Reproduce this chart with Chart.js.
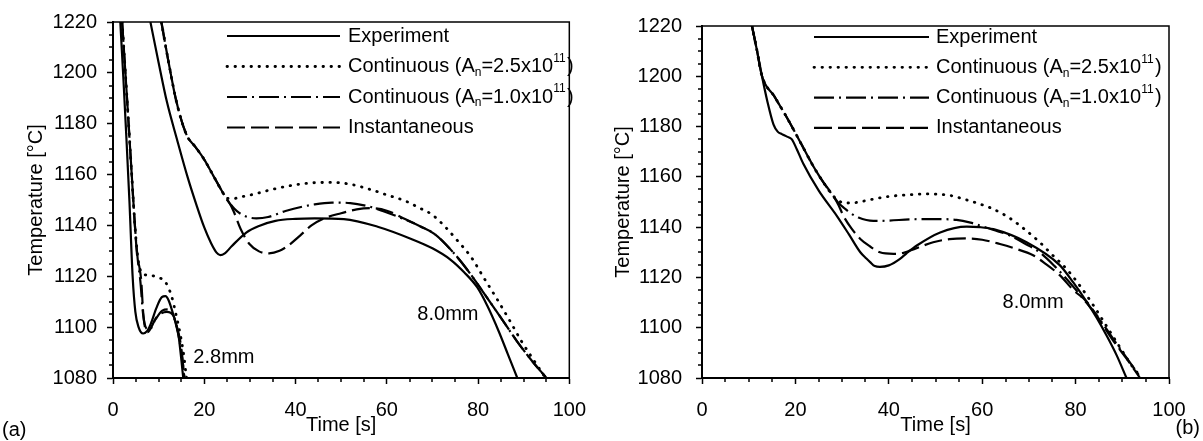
<!DOCTYPE html>
<html>
<head>
<meta charset="utf-8">
<script src="https://cdn.jsdelivr.net/npm/chart.js@4.4.0/dist/chart.umd.min.js"></script>
<style>
  body {
    margin: 0;
    background: #fff;
    width: 1203px;
    height: 441px;
    position: relative;
    overflow: hidden;
    font-family: "Liberation Sans", Arial, sans-serif;
  }
  canvas { position: absolute; top: 0; }
  #chartA { left: 0; }
  #chartB { left: 600px; }
  .panel { position: absolute; font-size: 20px; color: #000; }
</style>
</head>
<body>
<canvas id="chartA" width="600" height="441"></canvas>
<canvas id="chartB" width="603" height="441"></canvas>
<div class="panel" style="left:2px; top:418px;">(a)</div>
<div class="panel" style="right:3px; top:416px;">(b)</div>
<script>
// axis ticks
const xTicks = [0, 20, 40, 60, 80, 100];
const yTicks = [1080, 1100, 1120, 1140, 1160, 1180, 1200, 1220];

// legend entries (sub / superscripts split out)
const legendLabels = [
  [{ text: "Experiment" }],
  [{ text: "Continuous (A" }, { text: "n", sub: true }, { text: "=2.5x10" }, { text: "11", sup: true }, { text: ")" }],
  [{ text: "Continuous (A" }, { text: "n", sub: true }, { text: "=1.0x10" }, { text: "11", sup: true }, { text: ")" }],
  [{ text: "Instantaneous" }],
];

// (a) 2.8mm  [time s, temperature C]
const a28Exp = [[1.6,1220],[2.3,1197],[2.9,1175.7],[3.6,1149.6],[4.3,1120],[4.9,1106],[5.6,1100],[6.6,1097.5],[7.5,1098.5],[8.3,1101.4],[9.5,1107.5],[10.7,1111.8],[11.5,1112.2],[12.2,1110.5],[13.2,1105],[14.3,1097.5],[15.4,1080]];
const a28Dot = [[2.0,1220],[3.0,1192],[4.0,1163],[4.8,1140],[5.4,1128],[5.9,1123],[6.5,1121],[8.3,1120.3],[10,1119.5],[11.5,1117.7],[12.9,1111.8],[13.8,1105],[14.7,1097.5],[15.5,1089],[16.1,1080]];
const a28DashDot = [[2.0,1220],[3.0,1192],[4.0,1163],[4.8,1140],[5.4,1127],[6.0,1118],[6.6,1105],[7.3,1099.5],[8.0,1099],[9.3,1103],[10.8,1106.5],[12,1107],[13.2,1104.5],[14.2,1098],[15,1090],[15.7,1080]];
const a28Dash = [[2.0,1220],[3.0,1192],[4.0,1163],[4.8,1140],[5.3,1128],[5.8,1123.5],[6.2,1118],[6.6,1106],[7.0,1100],[7.6,1098],[8.4,1100],[9.3,1103.3],[10.5,1105.3],[11.8,1106],[13.2,1104.6],[14.0,1100],[14.7,1094.9],[15.2,1088],[15.6,1080]];

// (a) 8.0mm
const a80Exp = [[8.2,1220],[10,1204],[11.8,1188.7],[14,1174],[16.4,1158.7],[18.3,1148],[20,1139.2],[21.5,1133],[22.7,1129.3],[23.5,1128.3],[24.5,1129],[26,1131.8],[29.2,1137.2],[32,1139.8],[35.6,1141.8],[40,1142.6],[44.2,1142.8],[50.6,1142.5],[58,1139.5],[65.5,1134.6],[70,1131],[74,1126.5],[77,1121.5],[79.8,1115.7],[82,1108.5],[84.5,1098.5],[86.5,1089.5],[88.6,1080]];
const a80Start = [[10.6,1220],[12.2,1204],[13.9,1188.7],[16.1,1175.7],[18,1171],[20,1165.9],[22,1159.5],[24.3,1152.2]];
const a80Dot = [...a80Start, [25,1150.6],[26.5,1150.6],[28,1151.2],[30.7,1152.2],[35,1154.2],[40,1156],[44.2,1156.8],[48,1156.9],[52,1156.2],[57,1153.8],[60,1152],[64.1,1149.6],[67,1147],[69.8,1144.4],[72.5,1140],[75.5,1134],[78.5,1127.5],[81.2,1119.6],[84,1111.5],[86.9,1102.7],[89.5,1094.5],[92.2,1087],[94.8,1080]];
const a80DashDot = [...a80Start, [25,1150],[26,1147.8],[27.1,1145.7],[29,1143.6],[31.4,1142.8],[34,1143.3],[37.8,1145.7],[44.2,1148.3],[48,1149],[52,1148.8],[56,1147.5],[59.1,1145.7],[64,1142.3],[67.5,1139.5],[70.5,1136.6],[74.5,1129.5],[78.3,1121],[82,1111.5],[85.4,1102.7],[88.5,1094.5],[91.7,1087],[95,1080]];
const a80Dash = [...a80Start, [25.3,1149.5],[26.4,1145.7],[28,1138.5],[29.9,1132.7],[32,1129.8],[34.2,1129],[36.5,1130],[38.5,1132.2],[41,1136],[43.5,1140],[46.3,1142.8],[50,1144.8],[53.4,1146.3],[56.5,1146.8],[60,1145.8],[64,1142.5],[67.5,1139.5],[70.5,1136.6],[74.5,1129.5],[78.3,1121],[82,1111.5],[85.4,1102.7],[88.5,1094.5],[91.7,1087],[95,1080]];

// (b) 8.0mm
const bExp = [[10.7,1220],[11.8,1210],[12.8,1200.4],[14,1190],[15.3,1180.9],[16.2,1178],[17.1,1177],[18.2,1176],[19.2,1175],[20.3,1171],[21.7,1165.2],[25,1154.5],[28.9,1144.4],[31.5,1137],[33.9,1130],[35.2,1127.5],[36,1126.1],[37,1124.5],[38.1,1124.2],[40,1124.8],[42.4,1127.4],[43.8,1129.6],[46,1132.7],[51,1137.9],[56.7,1140.2],[59.5,1140],[62.4,1139.2],[69.5,1134],[76.6,1124.9],[79.5,1118],[82.3,1110.5],[84.5,1104],[86.6,1097],[88.8,1089],[90.9,1080]];
const bStart = [[10.7,1220],[11.8,1210],[12.8,1200.4],[15.5,1192],[18.2,1183.5],[21,1174],[23.9,1164],[26,1157.8],[28.2,1152.2]];
const bDot = [...bStart, [29.3,1150.5],[30.3,1149.6],[33,1149.8],[36,1150.9],[40,1152.2],[44.6,1152.9],[48,1153.2],[53.1,1152.6],[56,1151.2],[58.8,1149.6],[62,1147.5],[65.2,1144.4],[68.5,1140],[72.3,1134],[75,1129],[78,1123.5],[81,1116.5],[83.7,1109.2],[86.5,1101],[89.5,1092.2],[92,1085],[94.2,1080]];
const bDashDot = [...bStart, [29.3,1149.5],[30.5,1147.5],[31.7,1145.7],[33.5,1143.8],[36.7,1142.5],[40,1142.6],[44.6,1143.1],[50,1143.2],[54.5,1142.9],[57.5,1141.8],[60.2,1140.2],[63,1138.6],[66,1136.6],[69,1133.6],[72.3,1130],[75.5,1124.5],[78.5,1118.5],[82.3,1110],[84.5,1105],[86.6,1099.5],[89,1093],[91.5,1086.5],[94,1080]];
const bDash = [...bStart, [29.3,1148.5],[30.3,1144.4],[32,1139.5],[33.9,1135.3],[36,1132.3],[38.1,1130],[41,1129.4],[42.4,1129.5],[44.6,1130.7],[49.5,1134],[53,1135.2],[56.7,1135.5],[60,1135],[63.8,1133.3],[67,1131.5],[70.9,1128.8],[73.5,1125.5],[76.6,1120.9],[79.5,1115],[82.3,1110.5],[85,1103.5],[88,1095],[91,1087.5],[93.8,1080]];

Chart.defaults.font.family = '"Liberation Sans", Arial, sans-serif';
Chart.defaults.font.size = 20;
Chart.defaults.color = "#000";

// line styles, same order as the legend
const lineStyles = [
  { borderDash: [], borderWidth: 2.2 },
  { borderDash: [0.5, 7.5], borderWidth: 2.8, borderCapStyle: "round" },
  { borderDash: [20, 5, 2, 5], borderWidth: 2.2 },
  { borderDash: [18, 6], borderWidth: 2.2 },
];

function series(points, style) {
  return {
    data: points.map((p) => ({ x: p[0], y: p[1] })),
    borderColor: "#000",
    pointRadius: 0,
    cubicInterpolationMode: "monotone",
    borderDash: lineStyles[style].borderDash,
    borderWidth: lineStyles[style].borderWidth,
    borderCapStyle: lineStyles[style].borderCapStyle || "butt",
  };
}

// box around the plot plus the small minor ticks
const frame = {
  id: "frame",
  afterDraw(chart) {
    const { ctx, chartArea, scales } = chart;
    ctx.save();
    ctx.strokeStyle = "#000";
    ctx.lineWidth = 1.5;
    ctx.strokeRect(chartArea.left, chartArea.top, chartArea.right - chartArea.left, chartArea.bottom - chartArea.top);
    ctx.beginPath();
    for (let v = scales.x.min; v <= scales.x.max; v += 5) {
      if (v % 20 === 0) continue;
      const px = Math.round(scales.x.getPixelForValue(v));
      ctx.moveTo(px, chartArea.bottom);
      ctx.lineTo(px, chartArea.bottom + 4);
    }
    for (let v = scales.y.min; v <= scales.y.max; v += 5) {
      if (v % 20 === 0) continue;
      const py = Math.round(scales.y.getPixelForValue(v));
      ctx.moveTo(chartArea.left, py);
      ctx.lineTo(chartArea.left - 4, py);
    }
    ctx.stroke();
    ctx.restore();
  },
};

// legend drawn inside the plot, with sub/superscripts
const lineLegend = {
  id: "lineLegend",
  afterDraw(chart, args, opts) {
    const { ctx, chartArea } = chart;
    const fam = Chart.defaults.font.family;
    ctx.save();
    legendLabels.forEach((parts, i) => {
      const y = chartArea.top + opts.rowY + i * opts.rowGap;
      const st = lineStyles[i];
      ctx.strokeStyle = "#000";
      ctx.lineWidth = st.borderWidth;
      ctx.lineCap = st.borderCapStyle || "butt";
      ctx.setLineDash(st.borderDash);
      ctx.beginPath();
      ctx.moveTo(chartArea.left + opts.lineFrom, y);
      ctx.lineTo(chartArea.left + opts.lineTo, y);
      ctx.stroke();
      ctx.setLineDash([]);
      ctx.fillStyle = "#000";
      ctx.textBaseline = "middle";
      let x = chartArea.left + opts.textX;
      parts.forEach((p) => {
        let dy = 0;
        if (p.sub || p.sup) {
          ctx.font = "12px " + fam;
          dy = p.sub ? 6 : -8;
        } else {
          ctx.font = "20px " + fam;
        }
        ctx.fillText(p.text, x, y + dy);
        x += ctx.measureText(p.text).width + (p.sup ? 1.5 : 0);
      });
    });
    ctx.restore();
  },
};

// thickness labels placed in data coordinates
const sizeLabels = {
  id: "sizeLabels",
  afterDraw(chart, args, opts) {
    const { ctx, scales } = chart;
    ctx.save();
    ctx.font = "20px " + Chart.defaults.font.family;
    ctx.fillStyle = "#000";
    ctx.textAlign = "center";
    ctx.textBaseline = "middle";
    opts.items.forEach((it) => {
      ctx.fillText(it.text, scales.x.getPixelForValue(it.x), scales.y.getPixelForValue(it.y));
    });
    ctx.restore();
  },
};

function makeChart(id, datasets, layout) {
  return new Chart(document.getElementById(id).getContext("2d"), {
    type: "line",
    data: { datasets: datasets },
    plugins: [frame, lineLegend, sizeLabels],
    options: {
      responsive: false,
      animation: false,
      devicePixelRatio: 1,
      layout: { padding: { top: 20, right: layout.padRight, left: 0, bottom: 0 } },
      plugins: {
        legend: { display: false },
        tooltip: { enabled: false },
        lineLegend: layout.legend,
        sizeLabels: { items: layout.labels },
      },
      scales: {
        x: {
          type: "linear",
          min: 0,
          max: 100,
          afterBuildTicks: (s) => { s.ticks = xTicks.map((v) => ({ value: v })); },
          afterFit: (s) => { s.height = 63; },
          ticks: { padding: 14, maxRotation: 0, callback: (v) => String(v) },
          grid: { drawOnChartArea: false, tickLength: 6, tickWidth: 1.5, tickColor: "#000" },
          border: { color: "#000", width: 2 },
          title: { display: true, text: "Time [s]", padding: { top: 0, bottom: 4 } },
        },
        y: {
          min: 1080,
          max: 1220,
          afterBuildTicks: (s) => { s.ticks = yTicks.map((v) => ({ value: v })); },
          afterFit: (s) => { s.width = layout.axisLeft; },
          ticks: { padding: layout.yPad, callback: (v) => String(v) },
          grid: { drawOnChartArea: false, tickLength: 6, tickWidth: 1.5, tickColor: "#000" },
          border: { color: "#000", width: 2 },
          title: { display: true, text: "Temperature [°C]", padding: { top: layout.titlePad, bottom: 0 } },
        },
      },
    },
  });
}

const chartA = makeChart(
  "chartA",
  [
    series(a28Exp, 0), series(a28Dot, 1), series(a28DashDot, 2), series(a28Dash, 3),
    series(a80Exp, 0), series(a80Dot, 1), series(a80DashDot, 2), series(a80Dash, 3),
  ],
  {
    axisLeft: 113, padRight: 18, yPad: 10, titlePad: 24,
    legend: { lineFrom: 114, lineTo: 227, textX: 235, rowY: 14, rowGap: 30.5 },
    labels: [{ text: "2.8mm", x: 24.3, y: 1088.2 }, { text: "8.0mm", x: 73.4, y: 1105 }],
  }
);

const chartB = makeChart(
  "chartB",
  [series(bExp, 0), series(bDot, 1), series(bDashDot, 2), series(bDash, 3)],
  {
    axisLeft: 102, padRight: 34, yPad: 14, titlePad: 11,
    legend: { lineFrom: 112, lineTo: 227, textX: 234, rowY: 11, rowGap: 30.3 },
    labels: [{ text: "8.0mm", x: 70.9, y: 1110.1 }],
  }
);
</script>
</body>
</html>
